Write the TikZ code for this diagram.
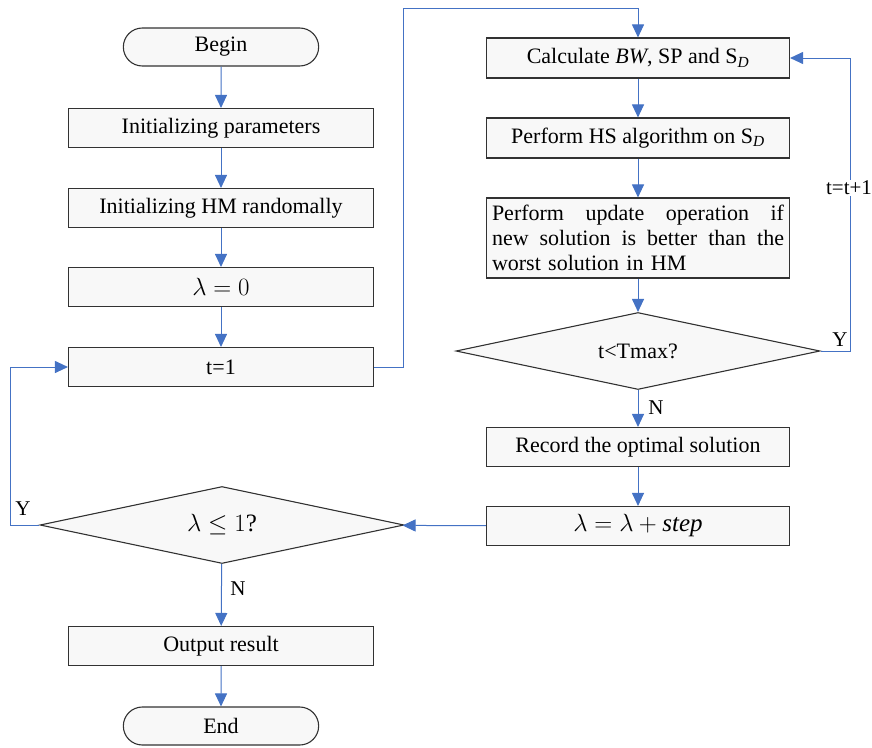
\documentclass[tikz,border=0pt]{standalone}
\usepackage{fontspec}
\setmainfont{Liberation Serif}
\usetikzlibrary{arrows.meta, shapes.geometric, shapes.misc}
\definecolor{flowblue}{RGB}{68,114,196}
\definecolor{boxfill}{RGB}{248,248,248}
\definecolor{boxline}{RGB}{50,50,50}
\tikzset{
    procbox/.style={draw=boxline, fill=boxfill, line width=1.1pt, rectangle,
        minimum width=#1, minimum height=39pt, inner sep=2pt, font=\fontsize{22}{26}\selectfont},
    procbox/.default=305pt,
    termbox/.style={draw=boxline, fill=boxfill, line width=1.1pt, rounded rectangle,
        minimum width=202pt, minimum height=38pt, font=\fontsize{22}{26}\selectfont},
    decbox/.style={draw=boxline, fill=boxfill, line width=1.1pt, diamond, aspect=4.7,
        minimum width=364pt, minimum height=77pt, inner sep=0pt, font=\fontsize{22}{26}\selectfont},
    flow/.style={draw=flowblue, line width=1pt, -{Triangle[width=12pt,length=13pt]}},
    lbl/.style={font=\fontsize{21}{24}\selectfont, inner sep=1pt}
}
\newcommand{\sd}{S\textsubscript{\textit{D}}}
\begin{document}
\begin{tikzpicture}[x=1pt, y=-1pt]
    \useasboundingbox (0,0) rectangle (872,747);
    % left column
    \node[termbox] (begin) at (221,47) {Begin};
    \node[procbox] (init) at (221,128) {Initializing parameters};
    \node[procbox] (inithm) at (221,208) {Initializing HM randomally};
    \node[procbox, font=\fontsize{25}{28}\selectfont] (lam0) at (221,287) {$\lambda=0$};
    \node[procbox] (t1) at (221,367) {t=1};
    \node[decbox, font=\fontsize{25}{28}\selectfont] (lamq) at (222,525) {$\lambda\le 1$?};
    \node[procbox] (out) at (221,646) {Output result};
    \node[termbox] (end) at (221,726) {End};
    % right column
    \node[procbox=303pt, minimum height=40pt] (calc) at (638,58) {Calculate \textit{BW}, SP and \sd};
    \node[procbox=303pt, minimum height=40pt] (hs) at (638,138) {Perform HS algorithm on \sd};
    \node[procbox=303pt, minimum height=80pt, align=left, text width=292pt, font=\fontsize{22}{25}\selectfont] (upd) at (638,238)
        {\makebox[292pt][s]{Perform\hfill update\hfill operation\hfill if}\\
         \makebox[292pt][s]{new\hfill solution\hfill is\hfill better\hfill than\hfill the}\\
         worst solution in HM};
    \node[decbox] (tmax) at (638,351) {t<Tmax?};
    \node[procbox=303pt] (rec) at (638,447) {Record the optimal solution};
    \node[procbox=303pt, font=\fontsize{25}{28}\selectfont] (step) at (638,526) {$\lambda=\lambda+\mathit{step}$};
    % connectors
    \draw[flow] (begin) -- (init);
    \draw[flow] (init) -- (inithm);
    \draw[flow] (inithm) -- (lam0);
    \draw[flow] (lam0) -- (t1);
    \draw[flow] (lamq) -- (out);
    \draw[flow] (out) -- (end);
    \draw[flow] (calc) -- (hs);
    \draw[flow] (hs) -- (upd);
    \draw[flow] (upd) -- (tmax);
    \draw[flow] (tmax) -- (rec);
    \draw[flow] (rec) -- (step);
    \draw[flow] (step) -- (lamq);
    \coordinate (topL) at (403,8);
    \draw[flow] (t1.east) -| (topL) -| (calc.north);
    \coordinate (loopR) at (850,351);
    \draw[flow] (tmax.east) -- (loopR) |- (calc.east);
    \coordinate (loopL) at (10,525);
    \draw[flow] (lamq.west) -- (loopL) |- (t1.west);
    % labels
    \node[lbl, fill=white] (inc) at (849,188) {t=t+1};
    \node[lbl] (yR) at (840,340) {Y};
    \node[lbl] (nR) at (656,408) {N};
    \node[lbl] (yL) at (23,509) {Y};
    \node[lbl] (nL) at (238,589) {N};
\end{tikzpicture}
\end{document}
